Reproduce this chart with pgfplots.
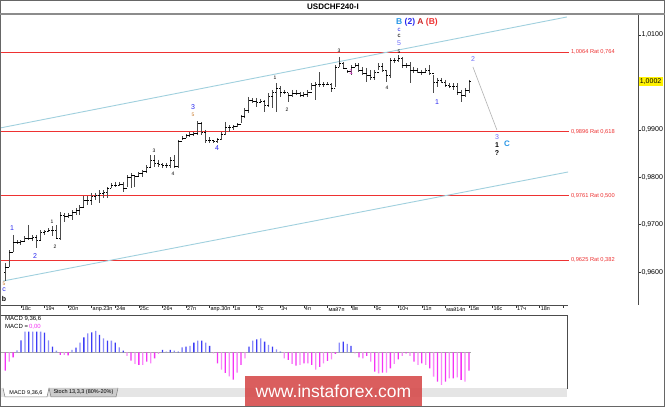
\documentclass[border=0pt]{standalone}
\usepackage{pgfplots}
\pgfplotsset{compat=1.18}
\usepackage{pgfplotstable}
\usepackage{fontspec}
\setmainfont{Liberation Sans}
\definecolor{fib}{RGB}{238,50,50}
\definecolor{chan}{RGB}{160,208,222}
\definecolor{wblue}{RGB}{40,40,240}
\definecolor{wperi}{RGB}{110,110,250}
\definecolor{wsky}{RGB}{40,150,230}
\definecolor{worange}{RGB}{200,120,40}
\definecolor{wpink}{RGB}{240,60,220}
\definecolor{wred}{RGB}{200,40,40}
\definecolor{macdb}{RGB}{60,60,245}
\definecolor{macdbl}{RGB}{140,140,250}
\definecolor{macdm}{RGB}{245,50,245}
\definecolor{macdml}{RGB}{250,135,250}
\definecolor{wm}{RGB}{214,72,72}
\pgfdeclareplotmark{cltick}{\pgfpathmoveto{\pgfpointorigin}\pgfpathlineto{\pgfpoint{1.7pt}{0pt}}\pgfusepathqstroke}
\pgfdeclareplotmark{optick}{\pgfpathmoveto{\pgfpointorigin}\pgfpathlineto{\pgfpoint{-1.7pt}{0pt}}\pgfusepathqstroke}

\pgfplotstableread{
k hi lo op cl
-4 0.96190 0.95810 0.96000 0.96105
-3 0.96464 0.96105 0.96105 0.96422
-2 0.96781 0.96422 0.96422 0.96633
-1 0.96675 0.96591 0.96633 0.96633
0 0.96675 0.96569 0.96633 0.96654
1 0.96759 0.96633 0.96654 0.96717
2 0.96992 0.96675 0.96717 0.96717
3 0.96781 0.96654 0.96717 0.96738
4 0.96781 0.96506 0.96738 0.96675
5 0.96886 0.96675 0.96675 0.96844
6 0.96886 0.96781 0.96844 0.96865
7 0.96928 0.96844 0.96865 0.96886
8 0.96970 0.96759 0.96886 0.96886
9 0.96992 0.96696 0.96886 0.96717
10 0.97266 0.96675 0.96717 0.97203
11 0.97245 0.97055 0.97203 0.97181
12 0.97245 0.97139 0.97181 0.97203
13 0.97308 0.97097 0.97203 0.97266
14 0.97350 0.97203 0.97266 0.97308
15 0.97414 0.97203 0.97308 0.97371
16 0.97603 0.97371 0.97371 0.97519
17 0.97603 0.97414 0.97519 0.97519
18 0.97667 0.97414 0.97519 0.97603
19 0.97667 0.97519 0.97603 0.97624
20 0.97730 0.97456 0.97624 0.97667
21 0.97730 0.97561 0.97667 0.97688
22 0.97793 0.97561 0.97688 0.97772
23 0.97878 0.97772 0.97772 0.97835
24 0.97899 0.97793 0.97835 0.97835
25 0.97899 0.97814 0.97835 0.97857
26 0.97899 0.97688 0.97857 0.97772
27 0.98046 0.97793 0.97772 0.98004
28 0.98089 0.97772 0.98004 0.98046
29 0.98046 0.97793 0.98046 0.98025
30 0.98110 0.98004 0.98025 0.98089
31 0.98152 0.98004 0.98089 0.98131
32 0.98257 0.98089 0.98131 0.98215
33 0.98468 0.98194 0.98215 0.98363
34 0.98468 0.98215 0.98363 0.98300
35 0.98363 0.98215 0.98300 0.98279
36 0.98300 0.98194 0.98279 0.98257
37 0.98300 0.98194 0.98257 0.98257
38 0.98426 0.98194 0.98257 0.98363
39 0.98468 0.98194 0.98363 0.98236
40 0.98785 0.98194 0.98236 0.98764
41 0.98869 0.98785 0.98764 0.98827
42 0.98911 0.98827 0.98827 0.98890
43 0.98954 0.98848 0.98890 0.98911
44 0.98954 0.98869 0.98911 0.98933
45 0.99186 0.98890 0.98933 0.99143
46 0.99165 0.98890 0.99143 0.98954
47 0.98996 0.98722 0.98954 0.98785
48 0.98848 0.98722 0.98785 0.98785
49 0.98785 0.98722 0.98785 0.98764
50 0.98827 0.98722 0.98764 0.98806
51 0.98954 0.98785 0.98806 0.98911
52 0.99165 0.98890 0.98911 0.99059
53 0.99101 0.98954 0.99059 0.99059
54 0.99101 0.98996 0.99059 0.99080
55 0.99143 0.99059 0.99080 0.99122
56 0.99312 0.99143 0.99122 0.99291
57 0.99460 0.99249 0.99291 0.99418
58 0.99692 0.99354 0.99418 0.99629
59 0.99671 0.99565 0.99629 0.99608
60 0.99671 0.99481 0.99608 0.99586
61 0.99650 0.99565 0.99586 0.99608
62 0.99629 0.99376 0.99608 0.99523
63 0.99776 0.99481 0.99523 0.99713
64 0.99840 0.99460 0.99713 0.99797
65 0.99987 0.99376 0.99797 0.99882
66 0.99924 0.99692 0.99882 0.99797
67 0.99840 0.99755 0.99797 0.99797
68 0.99776 0.99586 0.99797 0.99734
69 0.99840 0.99692 0.99734 0.99776
70 0.99840 0.99734 0.99776 0.99776
71 0.99797 0.99692 0.99776 0.99734
72 0.99797 0.99692 0.99734 0.99755
73 0.99840 0.99692 0.99755 0.99797
74 0.99987 0.99840 0.99797 0.99945
75 1.00008 0.99629 0.99945 0.99966
76 1.00219 0.99903 0.99966 0.99966
77 1.00008 0.99903 0.99966 0.99966
78 1.00008 0.99945 0.99966 0.99966
79 0.99987 0.99797 0.99966 0.99882
80 1.00367 0.99903 0.99882 1.00325
81 1.00536 1.00325 1.00325 1.00409
82 1.00430 1.00304 1.00409 1.00304
83 1.00262 1.00198 1.00304 1.00241
84 1.00367 1.00156 1.00241 1.00325
85 1.00409 1.00325 1.00325 1.00367
86 1.00409 1.00219 1.00367 1.00262
87 1.00325 1.00156 1.00262 1.00198
88 1.00304 1.00008 1.00198 1.00156
89 1.00262 1.00051 1.00156 1.00114
90 1.00262 1.00051 1.00114 1.00219
91 1.00409 1.00262 1.00219 1.00346
92 1.00409 1.00219 1.00346 1.00262
93 1.00262 1.00008 1.00262 1.00156
94 1.00515 1.00093 1.00156 1.00473
95 1.00515 1.00409 1.00473 1.00473
96 1.00578 1.00430 1.00473 1.00515
97 1.00536 1.00304 1.00515 1.00367
98 1.00409 1.00304 1.00367 1.00367
99 1.00430 0.99987 1.00367 1.00262
100 1.00325 1.00198 1.00262 1.00262
101 1.00304 1.00198 1.00262 1.00219
102 1.00262 1.00156 1.00219 1.00219
103 1.00304 1.00198 1.00219 1.00262
104 1.00367 1.00156 1.00262 1.00198
105 1.00156 0.99776 1.00198 1.00008
106 1.00093 0.99903 1.00008 1.00051
107 1.00093 0.99987 1.00051 1.00008
108 1.00051 0.99903 1.00008 0.99945
109 0.99987 0.99882 0.99945 0.99924
110 0.99987 0.99840 0.99924 0.99924
111 0.99987 0.99734 0.99924 0.99797
112 0.99840 0.99586 0.99797 0.99734
113 0.99882 0.99692 0.99734 0.99840
114 1.00051 0.99776 0.99840 1.00020
}\bars

\pgfplotstableread{
k v
-4 -0.00184
-3 -0.00094
-2 -0.00050
-1 0.00020
0 0.00120
1 0.00206
2 0.00206
3 0.00206
4 0.00206
5 0.00206
6 0.00196
7 0.00120
8 0.00057
9 0.00017
10 -0.00027
11 -0.00027
12 -0.00030
13 0.00023
14 0.00047
15 0.00097
16 0.00150
17 0.00190
18 0.00200
19 0.00213
20 0.00173
21 0.00140
22 0.00117
23 0.00117
24 0.00097
25 0.00050
26 0.00017
27 -0.00037
28 -0.00083
29 -0.00117
30 -0.00127
31 -0.00127
32 -0.00093
33 -0.00110
34 -0.00060
35 -0.00017
36 0.00023
37 0.00007
38 0.00023
39 0.00017
40 0.00007
41 0.00050
42 0.00057
43 0.00063
44 0.00097
45 0.00117
46 0.00117
47 0.00097
48 0.00063
49 -0.00010
50 -0.00110
51 -0.00173
52 -0.00207
53 -0.00240
54 -0.00273
55 -0.00203
56 -0.00127
57 -0.00060
58 0.00057
59 0.00117
60 0.00130
61 0.00140
62 0.00107
63 0.00073
64 0.00057
65 0.00030
66 0.00007
67 -0.00060
68 -0.00077
69 -0.00117
70 -0.00133
71 -0.00127
72 -0.00110
73 -0.00110
74 -0.00127
75 -0.00173
76 -0.00147
77 -0.00110
78 -0.00087
79 -0.00070
80 -0.00017
81 0.00097
82 0.00107
83 0.00083
84 0.00063
85 -0.00010
86 -0.00050
87 -0.00060
88 -0.00037
89 -0.00093
90 -0.00193
91 -0.00210
92 -0.00203
93 -0.00203
94 -0.00160
95 -0.00117
96 -0.00070
97 -0.00037
98 -0.00010
99 -0.00037
100 -0.00093
101 -0.00127
102 -0.00110
103 -0.00127
104 -0.00160
105 -0.00243
106 -0.00293
107 -0.00327
108 -0.00293
109 -0.00260
110 -0.00260
111 -0.00250
112 -0.00277
113 -0.00293
114 -0.00183
}\macd

\tikzset{
  lb/.style={inner sep=0pt, font=\fontsize{7}{7}\selectfont},
  sm/.style={inner sep=0pt, font=\fontsize{5}{5}\selectfont},
  fl/.style={anchor=west, text=fib, inner sep=0pt, font=\fontsize{5.7}{6}\selectfont},
}

\begin{document}
\begin{tikzpicture}
\path[use as bounding box, fill=white] (0pt,0pt) rectangle (665pt,407pt);

% ---------------- main price chart ----------------
\begin{axis}[
  at={(0pt,102pt)}, anchor=south west,
  scale only axis, width=638pt, height=291pt,
  xmin=-5.34, xmax=157.0, ymin=0.95304, ymax=1.01443,
  axis x line*=bottom, axis y line*=right,
  axis line style={-},
  x axis line style={draw=none},
  y axis line style={draw=black!70, line width=0.8pt},
  tick align=outside, major tick length=3pt,
  tick style={black!80, line width=0.6pt},
  xtick={0,6,...,138},
  xticklabels={18с,19ч,20п,апр.23п,24в,25с,26ч,27п,апр.30п,1в,2с,3ч,4п,май7п,8в,9с,10ч,11п,май14п,15в,16с,17ч,18п,{}},
  xticklabel style={anchor=north west, font=\fontsize{5.5}{6}\selectfont, inner sep=0pt, xshift=0.8pt, yshift=1.2pt},
  ytick={0.96,0.97,0.98,0.99,1.00,1.01},
  yticklabels={{0,9600},{0,9700},{0,9800},{0,9900},{},{1,0100}},
  yticklabel style={anchor=west, font=\fontsize{7}{8}\selectfont, inner sep=0pt, xshift=0.3pt},
  clip=false,
]
% fibonacci levels
\addplot[fib, line width=0.9pt] coordinates {(-5.34,1.0064) (139.4,1.0064)};
\addplot[fib, line width=0.9pt] coordinates {(-5.34,0.9896) (139.4,0.9896)};
\addplot[fib, line width=0.9pt] coordinates {(-5.34,0.9761) (139.4,0.9761)};
\addplot[fib, line width=0.9pt] coordinates {(-5.34,0.9625) (139.4,0.9625)};
% channel
\addplot[chan, line width=0.9pt] coordinates {(-5.34,0.99038) (138.9,1.01380)};
\addplot[chan, line width=0.9pt] coordinates {(-4.58,0.95810) (139.2,0.98110)};
% projection
\addplot[black!30, line width=0.6pt] coordinates {(115.0,1.00325) (121.1,0.98996)};
% OHLC bars: high-low lines
\addplot[draw=none, mark=none,
  error bars/.cd, y dir=minus, y explicit, error mark=none,
  error bar style={draw=black!70, solid, line width=1pt}]
  table[x=k, y=hi, y error expr=\thisrow{hi}-\thisrow{lo}] {\bars};
% close and open ticks
\addplot[only marks, mark=cltick, mark options={draw=black, line width=0.7pt}] table[x=k, y=cl] {\bars};
\addplot[only marks, mark=optick, mark options={draw=black, line width=0.7pt}] table[x=k, y=op] {\bars};

\draw[black!70, line width=0.8pt] (axis cs:-5.34,0.95304) -- (axis cs:139.2,0.95304);

\node[fl] at (axis cs:139.9,1.0064) {1,0064 Rat 0,764};
\node[fl] at (axis cs:139.9,0.9896) {0,9896 Rat 0,618};
\node[fl] at (axis cs:139.9,0.9761) {0,9761 Rat 0,500};
\node[fl] at (axis cs:139.9,0.9625) {0,9625 Rat 0,382};
\node[anchor=west, fill=yellow, inner sep=1.3pt, font=\fontsize{7}{8}\selectfont] at (axis cs:157.1,1.0002) {1,0002};
\end{axis}

% ---------------- MACD panel ----------------
\begin{axis}[
  at={(0pt,19pt)}, anchor=south west,
  scale only axis, width=567pt, height=73pt,
  xmin=-5.34, xmax=138.94, ymin=-0.00357, ymax=0.00373,
  xtick=\empty, ytick=\empty,
  axis line style={black!70, line width=0.8pt},
  clip=false,
]
\addplot[black!35, line width=0.6pt] coordinates {(-5.34,0) (114.5,0)};
\addplot[ybar, bar width=1.3pt, bar shift=0pt, fill=macdb, draw=none,
  x filter/.expression={abs(mod(x,2))<0.5 ? x : nan},
  y filter/.expression={y>0 ? y : nan}] table[x=k, y=v] {\macd};
\addplot[ybar, bar width=1.3pt, bar shift=0pt, fill=macdbl, draw=none,
  x filter/.expression={abs(mod(x,2))>0.5 ? x : nan},
  y filter/.expression={y>0 ? y : nan}] table[x=k, y=v] {\macd};
\addplot[ybar, bar width=1.3pt, bar shift=0pt, fill=macdm, draw=none,
  x filter/.expression={abs(mod(x,2))<0.5 ? x : nan},
  y filter/.expression={y<0 ? y : nan}] table[x=k, y=v] {\macd};
\addplot[ybar, bar width=1.3pt, bar shift=0pt, fill=macdml, draw=none,
  x filter/.expression={abs(mod(x,2))>0.5 ? x : nan},
  y filter/.expression={y<0 ? y : nan}] table[x=k, y=v] {\macd};
\end{axis}

\node[anchor=west, inner sep=0pt, font=\fontsize{6}{6}\selectfont] at (5pt,88pt) {MACD 9,36,6};
\node[anchor=west, inner sep=0pt, font=\fontsize{6}{6}\selectfont] at (5pt,80pt) {MACD =\,\textcolor{macdm}{0,00}};

% ---------------- frame, title ----------------
\draw[black!60, line width=0.8pt] (0.4pt,0.4pt) rectangle (664.6pt,406.6pt);
\draw[black!45, line width=1.4pt] (0pt,393pt) -- (665pt,393pt);
\node[font=\bfseries\fontsize{8}{8}\selectfont, inner sep=0pt] at (333pt,400.5pt) {USDCHF240-I};

% tabs
\fill[black!10] (0.8pt,10pt) rectangle (567pt,19pt);
\draw[fill=white, draw=black!50, line width=0.5pt] (3pt,19pt) -- (5pt,10pt) -- (47pt,10pt) -- (49pt,19pt);
\node[inner sep=0pt, font=\fontsize{5.5}{6}\selectfont] at (26pt,14.5pt) {MACD 9,36,6};
\draw[fill=black!20, draw=black!50, line width=0.5pt] (49pt,19pt) -- (51pt,10pt) -- (116pt,10pt) -- (118pt,19pt);
\node[inner sep=0pt, font=\fontsize{5.5}{6}\selectfont] at (83.5pt,14.5pt) {Stoch 13,3,3 (80\%-20\%)};

% ---------------- wave labels ----------------
\node[anchor=west, inner sep=0pt, font=\bfseries\fontsize{8.5}{9}\selectfont] at (396pt,385pt)
  {\textcolor{wsky}{B} \textcolor{wblue}{(2)} \textcolor{wred}{A} \textcolor{fib}{(B)}};
\node[lb, text=wblue, font=\fontsize{6}{6}\selectfont] at (399pt,377pt) {c};
\node[lb, text=black, font=\fontsize{6}{6}\selectfont] at (399pt,371pt) {c};
\node[lb, text=wperi] at (399pt,364pt) {5};
\node[sm] at (399pt,355.5pt) {5};
\node[sm] at (339pt,356pt) {3};
\node[sm] at (387pt,319pt) {4};
\node[lb, text=wpink] at (351pt,335pt) {1};
\node[lb, text=wperi] at (473pt,348pt) {2};
\node[lb, text=wblue] at (437pt,305pt) {1};
\node[lb, text=wperi] at (497pt,270pt) {3};
\node[lb, font=\bfseries\fontsize{7}{7}\selectfont] at (497pt,262pt) {1};
\node[inner sep=0pt, text=wsky, font=\bfseries\fontsize{8}{8}\selectfont] at (507pt,263pt) {C};
\node[lb, font=\bfseries\fontsize{7}{7}\selectfont] at (497pt,254pt) {?};
\node[sm] at (275pt,329pt) {1};
\node[sm] at (287pt,297pt) {2};
\node[lb, text=wblue] at (193pt,300pt) {3};
\node[sm, text=worange] at (193pt,292pt) {5};
\node[lb, text=wblue] at (217pt,259pt) {4};
\node[sm] at (154pt,256pt) {3};
\node[sm] at (173pt,233pt) {4};
\node[sm] at (52pt,185pt) {1};
\node[sm] at (55pt,160pt) {2};
\node[lb, text=wblue] at (12pt,179pt) {1};
\node[lb, text=wblue] at (35pt,151pt) {2};
\node[sm, text=worange] at (4pt,123pt) {5};
\node[lb, text=wblue] at (4pt,117pt) {c};
\node[inner sep=0pt, font=\bfseries\fontsize{7}{7}\selectfont] at (4pt,108pt) {b};

% ---------------- watermark ----------------
\fill[wm, opacity=0.88] (245pt,1pt) rectangle (422pt,31pt);
\node[text=white, inner sep=0pt, font=\fontsize{17.5}{18}\selectfont] at (333.5pt,16pt) {www.instaforex.com};
\end{tikzpicture}
\end{document}
